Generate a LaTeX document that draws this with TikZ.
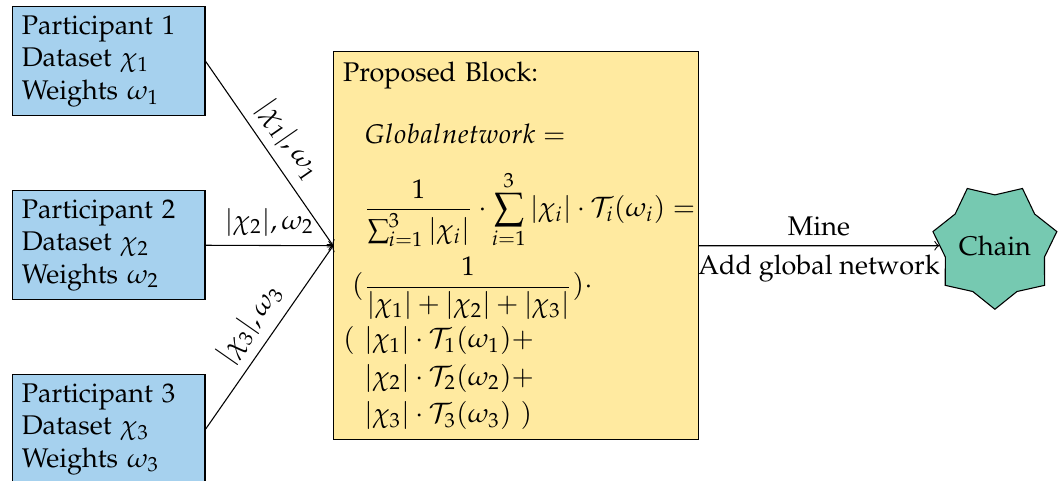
\documentclass[tikz,border=0pt]{standalone}
\usepackage[T1]{fontenc}
\usepackage{amsmath}
\usepackage{mathpazo}
\usetikzlibrary{shapes.geometric}

\definecolor{partblue}{RGB}{166,209,238}
\definecolor{blockyellow}{RGB}{255,234,160}
\definecolor{chaingreen}{RGB}{118,201,177}

\begin{document}
\begin{tikzpicture}[>=to,
  participant/.style={draw, fill=partblue, text width=2.27cm, align=left, inner sep=3.3pt},
  proposed/.style={draw, fill=blockyellow, text width=4.5cm, align=left, inner sep=3.5pt, minimum height=5.05cm},
  chainstar/.style={draw, fill=chaingreen, star, star points=7, star point ratio=1.25, shape border rotate=180, minimum size=1.6cm, inner sep=0pt}]

\useasboundingbox (0,0) rectangle (13.83,6.26);

\node[participant] (p1) at (1.419,5.462) {Participant 1\\Dataset $\chi_1$\\Weights $\omega_1$};
\node[participant] (p2) at (1.419,3.066) {Participant 2\\Dataset $\chi_2$\\Weights $\omega_2$};
\node[participant] (p3) at (1.419,0.671) {Participant 3\\Dataset $\chi_3$\\Weights $\omega_3$};

\node[proposed] (block) at (6.719,3.06) {Proposed Block:\\[11pt]
\hspace*{7.8pt}$Globalnetwork=$\\[9pt]
\hspace*{7.8pt}\mbox{$\displaystyle\frac{1}{\sum_{i=1}^{3}|\chi_i|}\cdot\sum_{i=1}^{3}|\chi_i|\cdot\mathcal{T}_i(\omega_i)=$}\\[2pt]
\hspace*{3.3pt}$\displaystyle(\frac{1}{|\chi_1|+|\chi_2|+|\chi_3|})\cdot$\\[1.5pt]
\makebox[7.8pt][l]{$($}$|\chi_1|\cdot\mathcal{T}_1(\omega_1)+$\\[2pt]
\hspace*{7.8pt}$|\chi_2|\cdot\mathcal{T}_2(\omega_2)+$\\[2pt]
\hspace*{7.8pt}$|\chi_3|\cdot\mathcal{T}_3(\omega_3)\ )$};

\node[chainstar] (chain) at (12.956,3.06) {Chain};

\draw[->] (p1.east) -- node[midway, above, sloped] {$|\chi_1|,\omega_1$} (block.west);
\draw[->] (p2.east) -- node[midway, above] {$|\chi_2|,\omega_2$} (block.west);
\draw[->] (p3.east) -- node[midway, above, sloped] {$|\chi_3|,\omega_3$} (block.west);

\draw[->] (block.east) -- node[above] {Mine} node[below] {Add global network} (chain);

\end{tikzpicture}
\end{document}
